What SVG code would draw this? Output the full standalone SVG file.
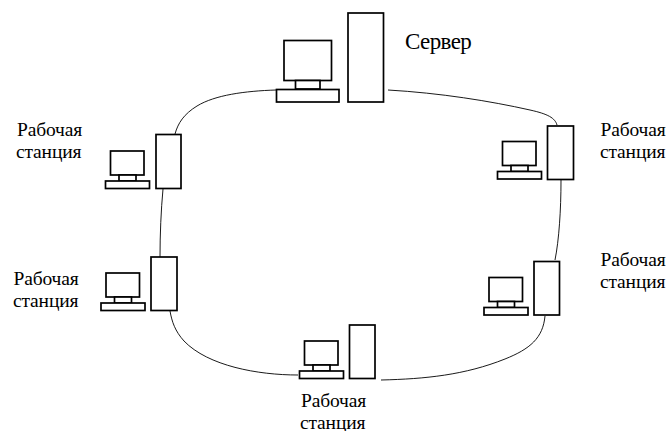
<svg xmlns="http://www.w3.org/2000/svg" width="667" height="431" viewBox="0 0 667 431">
<style>
.b{fill:#fff;stroke:#000;stroke-width:1.7}
.c{fill:none;stroke:#000;stroke-width:.9}
text{font-family:"Liberation Serif","Times New Roman",serif;fill:#000}
.l{font-size:19.500px;letter-spacing:-.15px}
.s{font-size:23px;letter-spacing:-.6px}
</style>
<defs>
<g id="pc">
<rect class="b" x="5" y="0" width="33.500" height="24"/>
<rect class="b" x="13.500" y="24" width="17" height="6"/>
<rect class="b" x="0" y="30" width="44" height="7.500"/>
</g>
</defs>
<rect width="667" height="431" fill="#fff"/>
<g id="connectors">
<path class="c" d="M276 90C245 91 215 95 197 106C184 114 178 123 175 134"/>
<path class="c" d="M163 189C161 210 160 235 160 257"/>
<path class="c" d="M170 311C172 322 175 331 184 341C208 366 258 375 298 375"/>
<path class="c" d="M381 380C425 379 465 375 505 359C530 349 543 338 545 316"/>
<path class="c" d="M561 180C561 210 559 240 555 260"/>
<path class="c" d="M388 90C440 93 490 101 530 110C548 114 555 118 557 125"/>
</g>
<g id="server">
<rect class="b" x="348" y="13" width="35.500" height="89"/>
<rect class="b" x="284" y="40.500" width="47.500" height="40"/>
<rect class="b" x="295.500" y="80.500" width="24.500" height="8.500"/>
<rect class="b" x="276.500" y="89.500" width="62.500" height="12.500"/>
<text class="s" x="405" y="49">Сервер</text>
</g>
<g id="ws-left-top">
<rect class="b" x="156" y="134.500" width="25" height="54"/>
<use href="#pc" x="105.500" y="151"/>
<text class="l" x="17" y="136">Рабочая</text>
<text class="l" x="16" y="158">станция</text>
</g>
<g id="ws-left-bottom">
<rect class="b" x="151" y="257" width="26" height="53.500"/>
<use href="#pc" x="101" y="273"/>
<text class="l" x="13.500" y="285">Рабочая</text>
<text class="l" x="13" y="307">станция</text>
</g>
<g id="ws-right-top">
<rect class="b" x="547.500" y="126" width="26" height="53.500"/>
<use href="#pc" x="497.500" y="141.500"/>
<text class="l" x="600.500" y="136">Рабочая</text>
<text class="l" x="600" y="158">станция</text>
</g>
<g id="ws-right-bottom">
<rect class="b" x="534" y="261.500" width="25.500" height="53.500"/>
<use href="#pc" x="484" y="277.500"/>
<text class="l" x="600.500" y="266">Рабочая</text>
<text class="l" x="600" y="288">станция</text>
</g>
<g id="ws-bottom">
<rect class="b" x="349.500" y="325" width="25.500" height="53.500"/>
<use href="#pc" x="299.500" y="341"/>
<text class="l" x="301" y="407">Рабочая</text>
<text class="l" x="300" y="428.500">станция</text>
</g>
</svg>
